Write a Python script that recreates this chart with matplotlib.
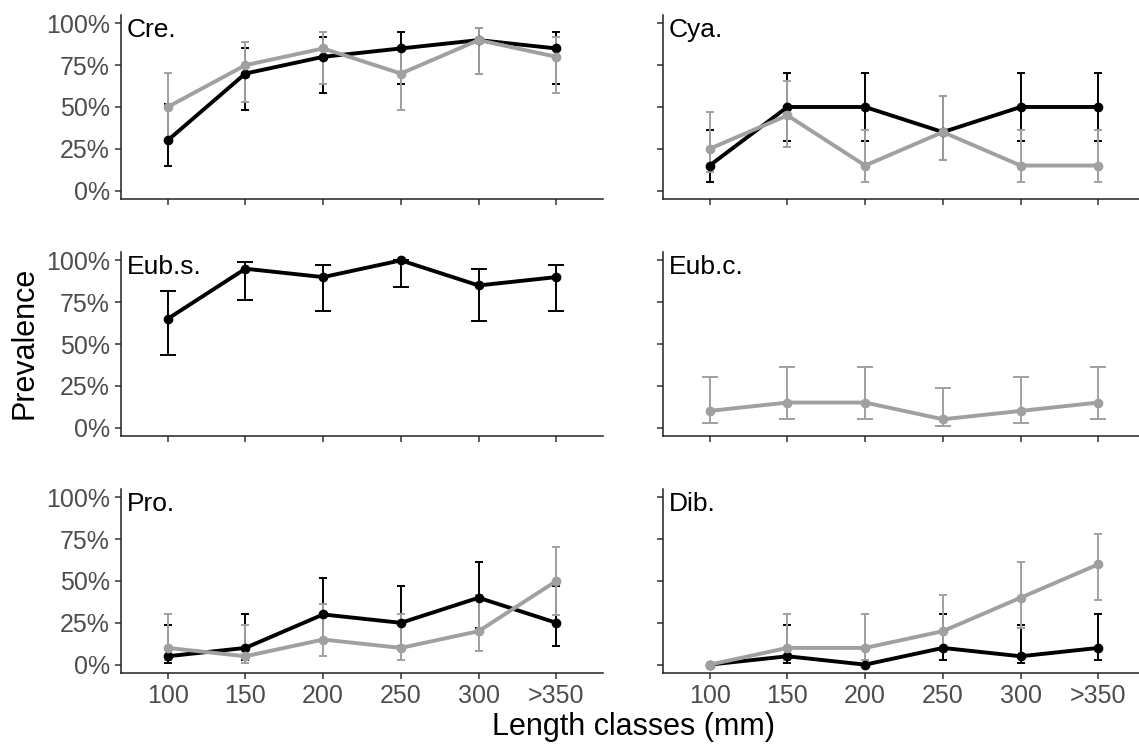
import numpy as np
import matplotlib.pyplot as plt

plt.rcParams['font.family'] = ['Liberation Sans', 'DejaVu Sans']

classes = ["100", "150", "200", "250", "300", ">350"]
panels = ["Cre.", "Cya.", "Eub.s.", "Eub.c.", "Pro.", "Dib."]

# prevalence (%) with lower / upper CI; None = no bar
cre_black = [30, 70, 80, 85, 90, 85]
cre_black_lo = [14.5, 48.1, 58.4, 64.0, 69.9, 64.0]
cre_black_hi = [51.9, 85.5, 91.9, 94.8, 97.2, 94.8]
cre_gray = [50, 75, 85, 70, 90, 80]
cre_gray_lo = [29.9, 53.1, 64.0, 48.1, 69.9, 58.4]
cre_gray_hi = [70.1, 88.8, 94.8, 85.5, 97.2, 91.9]

cya_black = [15, 50, 50, 35, 50, 50]
cya_black_lo = [5.2, 29.9, 29.9, 18.1, 29.9, 29.9]
cya_black_hi = [36.0, 70.1, 70.1, 56.7, 70.1, 70.1]
cya_gray = [25, 45, 15, 35, 15, 15]
cya_gray_lo = [11.2, 25.8, 5.2, 18.1, 5.2, 5.2]
cya_gray_hi = [46.9, 65.8, 36.0, 56.7, 36.0, 36.0]

eubs_black = [65, 95, 90, 100, 85, 90]
eubs_black_lo = [43.3, 76.4, 69.9, 83.9, 64.0, 69.9]
eubs_black_hi = [81.9, 99.1, 97.2, 100, 94.8, 97.2]

eubc_gray = [10, 15, 15, 5, 10, 15]
eubc_gray_lo = [2.8, 5.2, 5.2, 0.9, 2.8, 5.2]
eubc_gray_hi = [30.1, 36.0, 36.0, 23.6, 30.1, 36.0]

pro_black = [5, 10, 30, 25, 40, 25]
pro_black_lo = [0.9, 2.8, 14.5, 11.2, 21.9, 11.2]
pro_black_hi = [23.6, 30.1, 51.9, 46.9, 61.3, 46.9]
pro_gray = [10, 5, 15, 10, 20, 50]
pro_gray_lo = [2.8, 0.9, 5.2, 2.8, 8.1, 29.9]
pro_gray_hi = [30.1, 23.6, 36.0, 30.1, 41.6, 70.1]

dib_black = [0, 5, 0, 10, 5, 10]
dib_black_lo = [None, 0.9, None, 2.8, 0.9, 2.8]
dib_black_hi = [None, 23.6, None, 30.1, 23.6, 30.1]
dib_gray = [0, 10, 10, 20, 40, 60]
dib_gray_lo = [None, 2.8, 2.8, 8.1, 21.9, 38.7]
dib_gray_hi = [None, 30.1, 30.1, 41.6, 61.3, 78.1]

BLACK = "#000000"
GRAY = "#A0A0A0"

series = {
    "Cre.": [(cre_black, cre_black_lo, cre_black_hi, BLACK),
             (cre_gray, cre_gray_lo, cre_gray_hi, GRAY)],
    "Cya.": [(cya_black, cya_black_lo, cya_black_hi, BLACK),
             (cya_gray, cya_gray_lo, cya_gray_hi, GRAY)],
    "Eub.s.": [(eubs_black, eubs_black_lo, eubs_black_hi, BLACK)],
    "Eub.c.": [(eubc_gray, eubc_gray_lo, eubc_gray_hi, GRAY)],
    "Pro.": [(pro_black, pro_black_lo, pro_black_hi, BLACK),
             (pro_gray, pro_gray_lo, pro_gray_hi, GRAY)],
    "Dib.": [(dib_black, dib_black_lo, dib_black_hi, BLACK),
             (dib_gray, dib_gray_lo, dib_gray_hi, GRAY)],
}


def to_arr(v):
    return np.array([np.nan if a is None else a for a in v], dtype=float) / 100


W, H = 1139, 744
col_x = [121, 663]
row_top = [15, 252, 489]
ax_w, ax_h = 482, 184

fig = plt.figure(figsize=(W / 100, H / 100), dpi=100)
x = np.arange(len(classes))

for i, name in enumerate(panels):
    r, c = divmod(i, 2)
    ax = fig.add_axes([col_x[c] / W, 1 - (row_top[r] + ax_h) / H, ax_w / W, ax_h / H])
    groups = series[name]
    cap = 3.0 if len(groups) > 1 else 5.8
    # error bars first, then lines and points on top
    for p, lo, hi, col in groups:
        p, lo, hi = to_arr(p), to_arr(lo), to_arr(hi)
        m = ~np.isnan(lo)
        ax.errorbar(x[m], p[m], yerr=[p[m] - lo[m], hi[m] - p[m]], fmt="none",
                    ecolor=col, elinewidth=1.4, capsize=cap, capthick=1.4, zorder=2)
    for k, (p, lo, hi, col) in enumerate(groups):
        ax.plot(x, to_arr(p), color=col, lw=2.8, marker="o", ms=6, zorder=3 + k)

    ax.set_xlim(-0.6, len(classes) - 0.4)
    ax.set_ylim(-0.05, 1.05)
    ax.set_yticks([0, 0.25, 0.5, 0.75, 1.0])
    ax.set_xticks(x)
    ax.set_yticklabels(["0%", "25%", "50%", "75%", "100%"] if c == 0 else [])
    ax.set_xticklabels(classes if r == 2 else [])
    for s in ["top", "right"]:
        ax.spines[s].set_visible(False)
    for s in ["left", "bottom"]:
        ax.spines[s].set_linewidth(1.1)
        ax.spines[s].set_color("#222222")
    ax.tick_params(labelsize=18, labelcolor="#4D4D4D", color="#333333",
                   length=4, width=1.1, pad=4)
    ax.text(6 / ax_w, 0.88, name, transform=ax.transAxes, fontsize=19,
            ha="left", va="baseline", color="black")

fig.text(25 / W, 1 - 343 / H, "Prevalence", rotation=90, fontsize=22,
         ha="center", va="center")
fig.text(633 / W, 1 - 727 / H, "Length classes (mm)", fontsize=22,
         ha="center", va="center")

fig.savefig("out.png", dpi=100)
